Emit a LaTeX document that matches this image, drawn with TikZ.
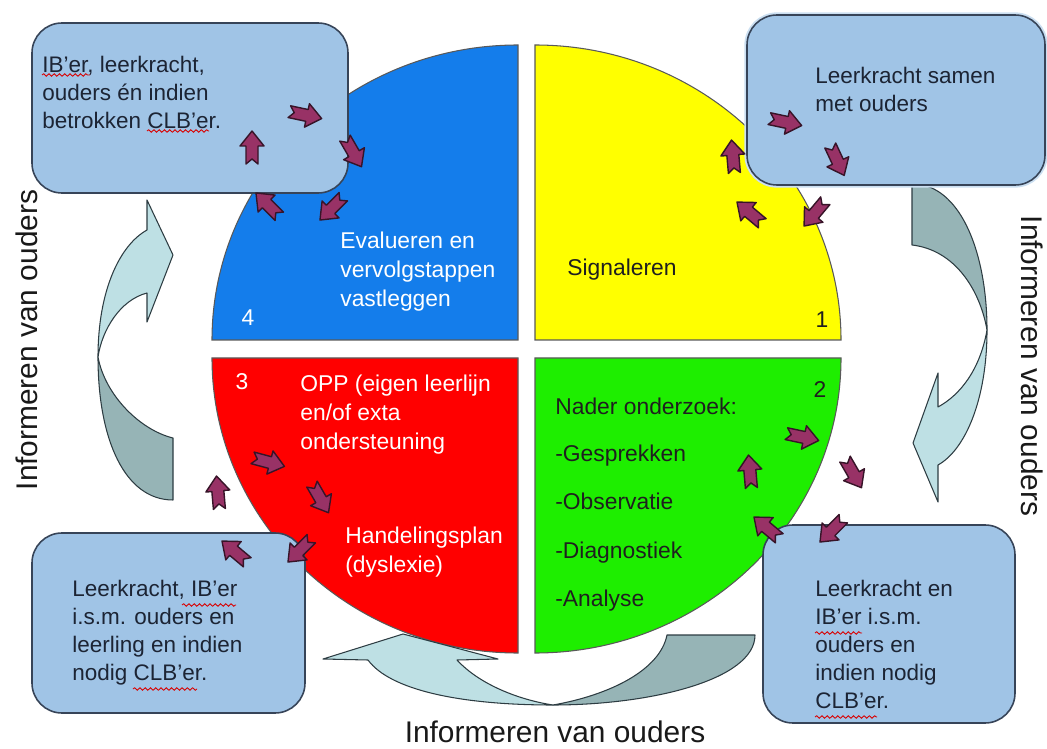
\documentclass[tikz,border=0pt]{standalone}
\usepackage{fontspec}
\setmainfont{Liberation Sans}
\usepackage{tikz}
\usetikzlibrary{decorations.pathmorphing}

\definecolor{quadblue}{RGB}{20,125,235}
\definecolor{quadyellow}{RGB}{255,255,0}
\definecolor{quadred}{RGB}{255,0,0}
\definecolor{quadgreen}{RGB}{30,238,0}
\definecolor{boxfill}{RGB}{160,196,230}
\definecolor{boxline}{RGB}{55,68,88}
\definecolor{boxtextcol}{RGB}{28,36,52}
\definecolor{bandlight}{RGB}{190,224,228}
\definecolor{banddark}{RGB}{150,180,182}
\definecolor{bandline}{RGB}{45,60,66}
\definecolor{cyclefill}{RGB}{152,50,102}
\definecolor{cycleline}{RGB}{55,20,40}

\tikzset{
  quadrant/.style={draw=black!65, line width=0.6pt},
  infobox/.style={draw=boxline, fill=boxfill, line width=0.9pt, rounded corners=0.6cm},
  band/.style={draw=bandline, line width=0.6pt, line join=round},
  cyclearrow/.style={draw=cycleline, fill=cyclefill, line width=0.8pt, line join=round},
  spellmark/.style={draw=red!85!black, line width=0.5pt, decorate,
    decoration={snake, amplitude=0.7pt, segment length=3pt}},
  boxtext/.style={anchor=north west, align=left, inner sep=0pt, text=boxtextcol,
    font=\fontsize{12.8}{15.9}\selectfont},
  quadtext/.style={anchor=north west, align=left, inner sep=0pt, text=black!88,
    font=\fontsize{13}{16.4}\selectfont},
  sidelabel/.style={inner sep=0pt, text=black!90, font=\fontsize{17}{20}\selectfont}
}

\begin{document}
\begin{tikzpicture}[x=0.02cm, y=-0.02cm]
    \useasboundingbox (0,0) rectangle (1047,749);

    % Quadrants
    \draw[quadrant, fill=quadblue] (518,340) -- (212,340)
        arc[start angle=180, end angle=270, x radius=306, y radius=295] -- cycle;
    \draw[quadrant, fill=quadyellow] (535,340) -- (535,45)
        arc[start angle=270, end angle=360, x radius=306, y radius=295] -- cycle;
    \draw[quadrant, fill=quadred] (518,358) -- (518,653)
        arc[start angle=90, end angle=180, x radius=306, y radius=295] -- cycle;
    \draw[quadrant, fill=quadgreen] (535,358) -- (841,358)
        arc[start angle=0, end angle=90, x radius=306, y radius=295] -- cycle;

    % Curved arrows: left
    \draw[band, fill=banddark] (173,438) -- (173,500) .. controls (125,500) and (98,440) .. (98,357)
        .. controls (105,395) and (140,430) .. (173,438) -- cycle;
    \draw[band, fill=bandlight] (98,357) .. controls (98,290) and (120,245) .. (147,230)
        -- (147,200) -- (173,255) -- (147,322) -- (147,293)
        .. controls (120,300) and (102,330) .. (98,357) -- cycle;

    % Curved arrows: right
    \draw[band, fill=banddark] (912,185) -- (923,185) .. controls (965,195) and (987,260) .. (987,330)
        .. controls (980,290) and (955,250) .. (912,245) -- cycle;
    \draw[band, fill=bandlight] (987,330) .. controls (987,400) and (965,450) .. (938,465)
        -- (938,502) -- (913,443) -- (938,373) -- (938,407)
        .. controls (960,395) and (980,370) .. (987,330) -- cycle;

    % Curved arrows: bottom
    \draw[band, fill=banddark] (667,635) -- (755,635) .. controls (755,680) and (650,705) .. (553,705)
        .. controls (610,695) and (660,670) .. (667,635) -- cycle;
    \draw[band, fill=bandlight] (553,705) .. controls (460,705) and (390,690) .. (368,660)
        -- (323,659) -- (403,634) -- (498,659) -- (457,660)
        .. controls (480,685) and (520,700) .. (553,705) -- cycle;

    % Boxes
    \draw[infobox] (32,23) rectangle (348,193);
    \draw[line width=3pt, draw=boxfill!55, rounded corners=0.6cm] (747,15) rectangle (1045,185);
    \draw[infobox] (747,15) rectangle (1045,185);
    \draw[infobox] (32,533) rectangle (305,713);
    \draw[infobox] (763,525) rectangle (1015,723);

    % Box texts
    \node[boxtext] (tltext) at (42,56) {IB’er, leerkracht,\\ouders én indien\\betrokken CLB’er.};
    \node[boxtext] (trtext) at (815,67) {Leerkracht samen\\met ouders};
    \node[boxtext] (bltext) at (72,580) {Leerkracht, IB’er\\i.s.m. ouders en\\leerling en indien\\nodig CLB’er.};
    \node[boxtext] (brtext) at (815,580) {Leerkracht en\\IB’er i.s.m.\\ouders en\\indien nodig\\CLB’er.};

    % Spell check marks
    \draw[spellmark] (42,75) -- (90,75);
    \draw[spellmark] (147,131) -- (209,131);
    \draw[spellmark] (182,605) -- (236,605);
    \draw[spellmark] (133,689) -- (197,689);
    \draw[spellmark] (815,633) -- (862,633);
    \draw[spellmark] (815,717) -- (877,717);

    % Quadrant texts
    \node[quadtext, text=white] (evaluate) at (340,232) {Evalueren en\\vervolgstappen\\vastleggen};
    \node[quadtext, text=white, anchor=center] (numfour) at (248,318) {4};
    \node[quadtext, anchor=west] (signal) at (567,270) {Signaleren};
    \node[quadtext, anchor=center] (numone) at (822,320) {1};
    \node[quadtext, text=white, anchor=center] (numthree) at (242,382) {3};
    \node[quadtext, text=white] (opp) at (300,375) {OPP (eigen leerlijn\\en/of exta\\ondersteuning};
    \node[quadtext, text=white] (plan) at (345,527) {Handelingsplan\\(dyslexie)};
    \node[quadtext, anchor=center] (numtwo) at (820,390) {2};
    \node[quadtext] (nader) at (555,398) {Nader onderzoek:};
    \node[quadtext] (talks) at (555,445) {-Gesprekken};
    \node[quadtext] (observe) at (555,493) {-Observatie};
    \node[quadtext] (diagnose) at (555,542) {-Diagnostiek};
    \node[quadtext] (analyse) at (555,590) {-Analyse};

    % Side labels
    \node[sidelabel, rotate=90] (infoleft) at (27,340) {Informeren van ouders};
    \node[sidelabel, rotate=-90] (inforight) at (1032,366) {Informeren van ouders};
    \node[sidelabel] (infobottom) at (555,732) {Informeren van ouders};

    % Small cycle arrows
    \foreach \px/\py/\ang in {305/115/-12, 353/152/-60, 332/208/-135, 268/205/135, 252/148/90,
                             785/122/-12, 837/160/-65, 815/213/-130, 750/213/140, 733/157/95,
                             802/437/-12, 853/473/-60, 832/530/-135, 767/528/140, 750/472/95,
                             268/462/-15, 320/498/-60, 300/550/-135, 235/552/140, 218/493/95}
      \draw[cyclearrow, shift={(\px,\py)}, rotate=\ang]
        (-16,-6) -- (2,-6) -- (2,-12) -- (17,0) -- (2,12) -- (2,6) -- (-16,6) -- (-11,0) -- cycle;
\end{tikzpicture}
\end{document}
